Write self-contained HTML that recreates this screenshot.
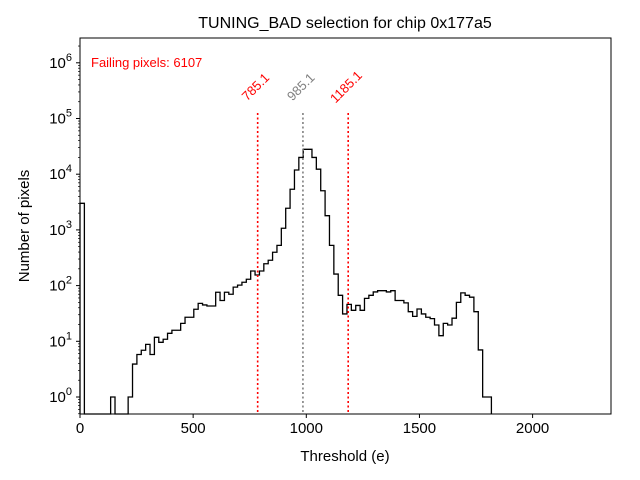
<!DOCTYPE html>
<html><head><meta charset="utf-8"><style>body{margin:0;background:#fff}svg{display:block;font-family:"Liberation Sans","DejaVu Sans",sans-serif}</style></head>
<body>
<svg id="chart" width="640" height="480" viewBox="0 0 640 480" xmlns="http://www.w3.org/2000/svg">
<text x="345" y="28" text-anchor="middle" font-size="16">TUNING_BAD selection for chip 0x177a5</text>
<text x="91" y="67" font-size="13" fill="red">Failing pixels: 6107</text>
<text x="345" y="461" text-anchor="middle" font-size="15">Threshold (e)</text>
<text transform="translate(29,226) rotate(-90)" text-anchor="middle" font-size="15">Number of pixels</text>
<g id="plot"></g>
<rect x="80" y="38" width="531" height="376" fill="none" stroke="#000" stroke-width="1"/>
</svg>
<script>
const binWidth = 19.34;
const counts = [3000,0,0,0,0,0,0,1,0,0,0,1,3.9,5.8,6.9,8.8,5.8,11.8,9.6,10.9,13.9,15.8,15.8,21,27,27,37.6,48,45,43,43,76,54,76,70,94,102,115,130,183,155,183,247,285,397,528,1070,2450,5360,11900,20000,28000,28000,20000,12300,5050,1800,528,161,67,31,46,36,44,36,59,67,77,81,81,77,81,54,54,49,34,28,38,31,27,25.5,19.6,12.6,21,19.6,26,50,74,67,62,34,7,1,1];
const xTicks = [0,500,1000,1500,2000];
const yExps = [0,1,2,3,4,5,6];
const markers = [785.1,985.1,1185.1];
const markerLabels = ["785.1","985.1","1185.1"];
const markerColors = ["red","gray","red"];

const NS="http://www.w3.org/2000/svg";
const L=80,R=611,T=38,B=414;
const xs=v=>L+v*0.2263;
const ys=v=>397-55.7*Math.log10(v);
const g=document.getElementById('plot');
function mk(tag,attrs){const e=document.createElementNS(NS,tag);for(const k in attrs)e.setAttribute(k,attrs[k]);g.appendChild(e);return e;}

// histogram step path
let d="";let prevY=B;
counts.forEach((c,i)=>{
  const x0=xs(i*binWidth),x1=xs((i+1)*binWidth);
  const y=c>0?Math.min(ys(c),B):B;
  if(i===0)d+=`M${x0},${B}`;
  d+=`L${x0},${y}L${x1},${y}`;
  prevY=y;
});
d+=`L${xs(counts.length*binWidth)},${B}`;
const p=mk('path',{d:d,fill:'none',stroke:'#000','stroke-width':1.3});



// markers
markers.forEach((m,i)=>{
  const x=xs(m);
  const ln=mk('line',{x1:x,x2:x,y1:113,y2:B,stroke:markerColors[i],'stroke-width':1.6,'stroke-dasharray':'2,2.5'});
  
  
  const t=mk('text',{x:0,y:0,transform:`translate(${x+1},${90}) rotate(-45)`,'text-anchor':'middle',fill:markerColors[i],'font-size':13});
  t.textContent=markerLabels[i];
  
  
});

// x ticks
xTicks.forEach(v=>{
  const x=xs(v);
  const tk=mk('line',{x1:x,x2:x,y1:B,y2:B+4,stroke:'#000'});
  
  
  const t=mk('text',{x:x,y:B+19,'text-anchor':'middle','font-size':15});
  t.textContent=v;
  
  
});
// y ticks
yExps.forEach(e=>{
  const y=ys(Math.pow(10,e));
  const tk=mk('line',{x1:L-4,x2:L,y1:y,y2:y,stroke:'#000'});
  
  
  const t=mk('text',{x:L-8,y:y+5,'text-anchor':'end','font-size':15});
  t.innerHTML=`10<tspan dy="-7" font-size="11">${e}</tspan>`;
  
  
});
for(let e=-1;e<=6;e++){for(let k=2;k<=9;k++){
  const y=ys(k*Math.pow(10,e));
  if(y<T||y>B)continue;
  const tk=mk('line',{x1:L-2,x2:L,y1:y,y2:y,stroke:'#000','stroke-width':0.7});
  
  
}}
</script>
</body></html>
